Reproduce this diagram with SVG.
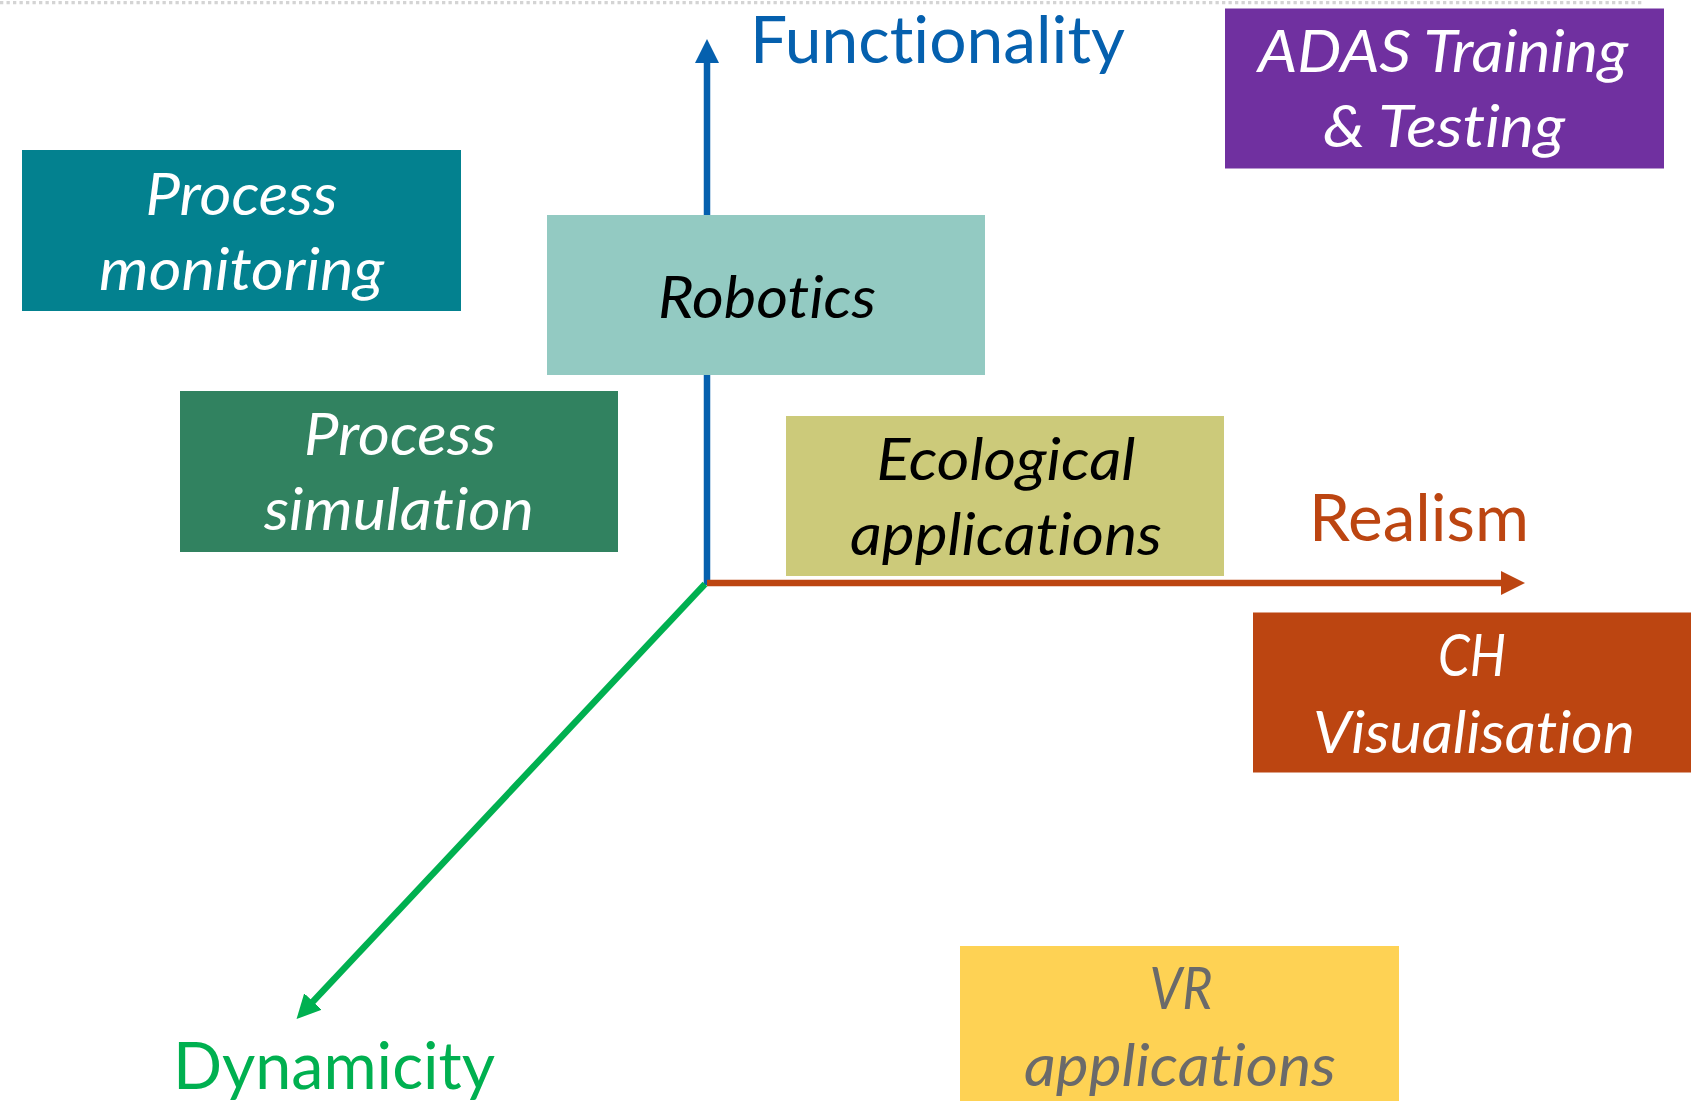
<svg xmlns="http://www.w3.org/2000/svg" width="1691" height="1101" viewBox="0 0 1691 1101">
<style>
.box{stroke:none}
.lbl{font-family:Lato,"Open Sans","Liberation Sans",sans-serif;font-style:italic;font-size:58px;text-anchor:middle;font-variant-ligatures:none;font-feature-settings:"liga" 0,"clig" 0}
.axis{font-family:Lato,"Open Sans","Liberation Sans",sans-serif;font-size:65px;text-anchor:middle;font-variant-ligatures:none;font-feature-settings:"liga" 0,"clig" 0}
.ax{fill:none;stroke-width:6.5}
</style>
<defs>
<marker id="hb" markerUnits="userSpaceOnUse" markerWidth="26" markerHeight="26" refX="2" refY="12" orient="auto"><path d="M0,0 L24,12 L0,24 z" fill="#0560AE"/></marker>
<marker id="hr" markerUnits="userSpaceOnUse" markerWidth="26" markerHeight="26" refX="2" refY="12" orient="auto"><path d="M0,0 L24,12 L0,24 z" fill="#BC4511"/></marker>
<marker id="hg" markerUnits="userSpaceOnUse" markerWidth="26" markerHeight="26" refX="2" refY="12" orient="auto"><path d="M0,0 L24,12 L0,24 z" fill="#00B050"/></marker>
</defs>
<rect width="1691" height="1101" fill="#fff"/>
<line x1="0" y1="2.7" x2="1644" y2="2.7" stroke="#D4D4D4" stroke-width="3.3" stroke-dasharray="3.3 3.2"/>
<g id="connectors">
<line class="ax" x1="707" y1="585" x2="707" y2="61" stroke="#0560AE" marker-end="url(#hb)"/>
<line class="ax" x1="707" y1="583" x2="1503" y2="583" stroke="#BC4511" marker-end="url(#hr)"/>
<line class="ax" x1="705" y1="584" x2="311.6" y2="1003" stroke="#00B050" marker-end="url(#hg)"/>
</g>
<g id="axis-functionality"><text class="axis" x="937.5" y="63" fill="#0560AE" textLength="375" lengthAdjust="spacingAndGlyphs">Functionality</text></g>
<g id="axis-realism"><text class="axis" x="1419" y="541" fill="#BC4511" textLength="220" lengthAdjust="spacingAndGlyphs">Realism</text></g>
<g id="axis-dynamicity"><text class="axis" x="334" y="1089" fill="#00B050" textLength="322" lengthAdjust="spacingAndGlyphs">Dynamicity</text></g>
<g id="adas">
<rect class="box" x="1225" y="8.5" width="439" height="160" fill="#7030A0"/>
<text class="lbl" fill="#fff"><tspan x="1443" y="72" textLength="370" lengthAdjust="spacingAndGlyphs">ADAS Training</tspan><tspan x="1444" y="147" textLength="242" lengthAdjust="spacingAndGlyphs">&amp; Testing</tspan></text>
</g>
<g id="process-monitoring">
<rect class="box" x="22" y="150" width="439" height="161" fill="#03818F"/>
<text class="lbl" fill="#fff"><tspan x="241.5" y="215" textLength="192" lengthAdjust="spacingAndGlyphs">Process</tspan><tspan x="241.5" y="290" textLength="285" lengthAdjust="spacingAndGlyphs">monitoring</tspan></text>
</g>
<g id="robotics">
<rect class="box" x="547" y="215" width="438" height="160" fill="#93CAC2"/>
<text class="lbl" fill="#000" x="767" y="318" textLength="218" lengthAdjust="spacingAndGlyphs">Robotics</text>
</g>
<g id="process-simulation">
<rect class="box" x="180" y="391" width="438" height="161" fill="#318260"/>
<text class="lbl" fill="#fff"><tspan x="400" y="455" textLength="192" lengthAdjust="spacingAndGlyphs">Process</tspan><tspan x="399" y="530" textLength="270" lengthAdjust="spacingAndGlyphs">simulation</tspan></text>
</g>
<g id="ecological">
<rect class="box" x="786" y="416" width="438" height="160" fill="#CCCA7A"/>
<text class="lbl" fill="#000"><tspan x="1006" y="480" textLength="259" lengthAdjust="spacingAndGlyphs">Ecological</tspan><tspan x="1006" y="555" textLength="312" lengthAdjust="spacingAndGlyphs">applications</tspan></text>
</g>
<g id="ch-visualisation">
<rect class="box" x="1253" y="612.5" width="438" height="160" fill="#BC4511"/>
<text class="lbl" fill="#fff"><tspan x="1472" y="676" textLength="68" lengthAdjust="spacingAndGlyphs">CH</tspan><tspan x="1474" y="753" textLength="322" lengthAdjust="spacingAndGlyphs">Visualisation</tspan></text>
</g>
<g id="vr-applications">
<rect class="box" x="960" y="946" width="439" height="160" fill="#FED254"/>
<text class="lbl" fill="#6A6A6A"><tspan x="1181" y="1009" textLength="63" lengthAdjust="spacingAndGlyphs">VR</tspan><tspan x="1180" y="1086" textLength="312" lengthAdjust="spacingAndGlyphs">applications</tspan></text>
</g>
</svg>
